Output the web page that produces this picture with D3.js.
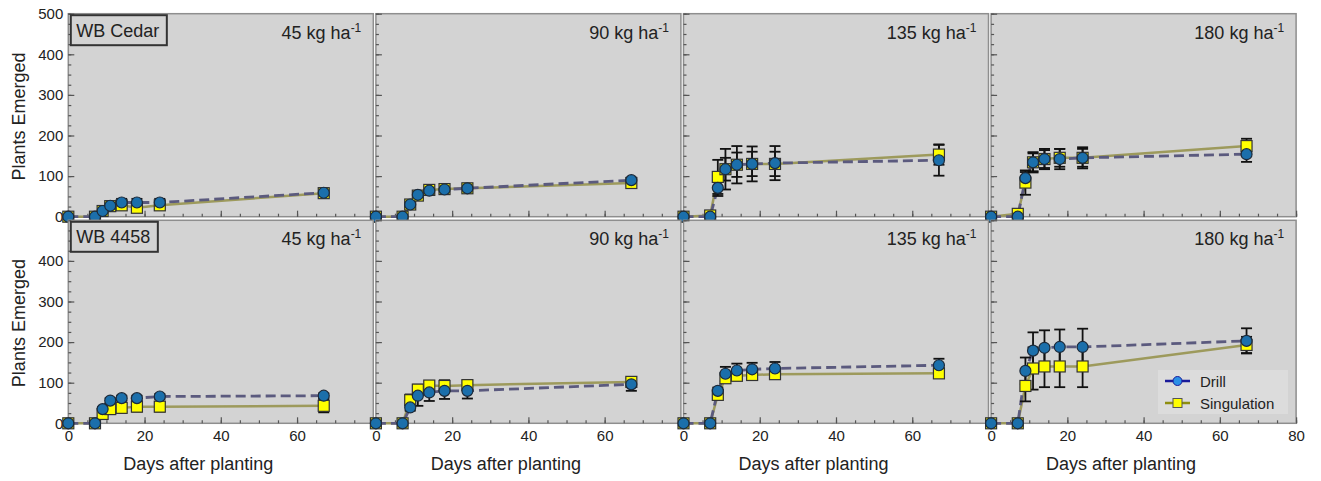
<!DOCTYPE html>
<html>
<head>
<meta charset="utf-8">
<script src="https://cdn.jsdelivr.net/npm/d3@7"></script>
<style>
  html, body { margin: 0; padding: 0; background: #ffffff; }
  svg { display: block; font-family: "Liberation Sans", Arial, sans-serif; }
</style>
</head>
<body>
<svg id="chart" width="1321" height="481"></svg>
<script>
// Sampling days after planting
const days = [0, 7, 9, 11, 14, 18, 24, 67];

// Cultivars (rows) and seeding rates (columns)
const cultivars = ["WB Cedar", "WB 4458"];
const rates = ["45", "90", "135", "180"];

// WB Cedar — mean plants emerged and standard error
const cedarDrill45 = [0, 0, 14, 27, 35, 35, 35, 59];
const cedarDrill45Err = [0, 0, 5, 8, 9, 9, 9, 9];
const cedarSing45 = [0, 0, 14, 26, 28, 22, 28, 58];
const cedarSing45Err = [0, 0, 5, 7, 8, 8, 7, 8];

const cedarDrill90 = [0, 0, 30, 54, 64, 67, 70, 90];
const cedarDrill90Err = [0, 0, 5, 7, 9, 10, 10, 6];
const cedarSing90 = [0, 0, 30, 52, 66, 68, 70, 83];
const cedarSing90Err = [0, 0, 5, 6, 9, 9, 10, 6];

const cedarDrill135 = [0, 0, 71, 117, 128, 130, 132, 139];
const cedarDrill135Err = [0, 0, 20, 50, 46, 43, 42, 38];
const cedarSing135 = [0, 3, 98, 117, 128, 130, 130, 153];
const cedarSing135Err = [0, 2, 42, 28, 30, 30, 30, 25];

const cedarDrill180 = [0, 0, 95, 134, 142, 142, 145, 154];
const cedarDrill180Err = [0, 0, 15, 25, 25, 25, 26, 19];
const cedarSing180 = [0, 7, 84, 134, 142, 145, 145, 174];
const cedarSing180Err = [0, 2, 30, 22, 22, 22, 22, 18];

// WB 4458 — mean plants emerged and standard error
const wbDrill45 = [0, 0, 35, 56, 62, 62, 66, 68];
const wbDrill45Err = [0, 0, 5, 6, 6, 6, 6, 6];
const wbSing45 = [0, 0, 23, 35, 38, 41, 41, 43];
const wbSing45Err = [0, 0, 5, 10, 10, 12, 12, 16];

const wbDrill90 = [0, 0, 39, 68, 76, 80, 80, 96];
const wbDrill90Err = [0, 0, 8, 25, 21, 20, 19, 16];
const wbSing90 = [0, 0, 57, 83, 93, 92, 94, 102];
const wbSing90Err = [0, 0, 14, 12, 10, 14, 12, 8];

const wbDrill135 = [0, 0, 80, 122, 130, 133, 135, 143];
const wbDrill135Err = [0, 0, 8, 17, 17, 16, 16, 16];
const wbSing135 = [0, 0, 70, 111, 117, 119, 121, 123];
const wbSing135Err = [0, 0, 8, 8, 8, 8, 8, 6];

const wbDrill180 = [0, 0, 129, 179, 186, 188, 188, 203];
const wbDrill180Err = [0, 0, 33, 45, 43, 43, 45, 31];
const wbSing180 = [0, 0, 92, 135, 140, 140, 140, 193];
const wbSing180Err = [0, 0, 38, 52, 51, 51, 51, 20];

// Axis ticks
const yTicks = [0, 100, 200, 300, 400, 500];
const xTicks = [0, 20, 40, 60, 80];

// Assemble the panel grid from the arrays above
const panelData = [
  [
    [cedarDrill45, cedarDrill45Err, cedarSing45, cedarSing45Err],
    [cedarDrill90, cedarDrill90Err, cedarSing90, cedarSing90Err],
    [cedarDrill135, cedarDrill135Err, cedarSing135, cedarSing135Err],
    [cedarDrill180, cedarDrill180Err, cedarSing180, cedarSing180Err]
  ],
  [
    [wbDrill45, wbDrill45Err, wbSing45, wbSing45Err],
    [wbDrill90, wbDrill90Err, wbSing90, wbSing90Err],
    [wbDrill135, wbDrill135Err, wbSing135, wbSing135Err],
    [wbDrill180, wbDrill180Err, wbSing180, wbSing180Err]
  ]
];

// Layout
const colX0 = 68.3, colStep = 307.6, panelW = 305;
const rowY0 = [13.7, 220.3], panelH = 203;

const svg = d3.select("#chart");

const drillLine = "#5b5a7e";
const singLine = "#9d9a5c";
const drillFill = "#1b6fab";
const singFill = "#ffff00";

function drawPanel(r, c) {
  const x0 = colX0 + c * colStep;
  const y0 = rowY0[r];
  const x = d3.scaleLinear().domain([0, 80]).range([x0, x0 + panelW]);
  const y = d3.scaleLinear().domain([0, 500]).range([y0 + panelH, y0]);
  const [dV, dE, sV, sE] = panelData[r][c];
  const g = svg.append("g");

  // Background and frame
  g.append("rect")
    .attr("x", x0).attr("y", y0)
    .attr("width", panelW).attr("height", panelH)
    .attr("fill", "#d3d3d3")
    .attr("stroke", "#8e8e8e").attr("stroke-width", 1.5);

  // Y axis: major ticks every 100, minor every 25, drawn inward
  const yMajor = g.append("g").attr("transform", `translate(${x0},0)`)
    .call(d3.axisLeft(y).tickValues(c === 0 ? (r === 0 ? yTicks : yTicks.slice(0, 5)) : yTicks)
      .tickSize(-6).tickPadding(5)
      .tickFormat(c === 0 ? d3.format("d") : () => ""));
  const yMinor = g.append("g").attr("transform", `translate(${x0},0)`)
    .call(d3.axisLeft(y).tickValues(d3.range(0, 501, 25)).tickSize(-3).tickFormat(() => ""));

  // X axis: major ticks every 20, minor every 5
  const showX = r === 1;
  const xVals = c === 3 ? xTicks : xTicks.slice(0, 4);
  const xMajor = g.append("g").attr("transform", `translate(0,${y0 + panelH})`)
    .call(d3.axisBottom(x).tickValues(showX ? xVals : xTicks).tickSize(-6).tickPadding(7)
      .tickFormat(showX ? d3.format("d") : () => ""));
  const xMinor = g.append("g").attr("transform", `translate(0,${y0 + panelH})`)
    .call(d3.axisBottom(x).tickValues(d3.range(0, 81, 5)).tickSize(-3).tickFormat(() => ""));

  [yMajor, yMinor, xMajor, xMinor].forEach(ax => {
    ax.select(".domain").remove();
    ax.selectAll(".tick line").attr("stroke", "#555").attr("stroke-width", 1.2);
    ax.selectAll(".tick text").attr("fill", "#222").style("font-size", "15px")
      .style("font-family", "'Liberation Sans', Arial, sans-serif");
  });

  // Title with superscript
  const t = g.append("text")
    .attr("x", x0 + panelW - 12).attr("y", y0 + 25)
    .attr("text-anchor", "end")
    .attr("fill", "#222")
    .style("font-size", "18px");
  t.append("tspan").text(rates[c] + " kg ha");
  t.append("tspan").attr("dy", -7).style("font-size", "12px").text("-1");

  // Cultivar label box
  if (c === 0) {
    const lg = g.append("g");
    const box = lg.append("rect")
      .attr("x", x0 + 2.5).attr("y", y0 + 1.5)
      .attr("height", 30)
      .attr("fill", "#d3d3d3")
      .attr("stroke", "#333").attr("stroke-width", 2);
    const lbl = lg.append("text")
      .attr("x", x0 + 8).attr("y", y0 + 23)
      .attr("fill", "#222")
      .style("font-size", "18px")
      .text(cultivars[r]);
    box.attr("width", lbl.node().getComputedTextLength() + 13);
  }

  const pts = days.map((d, i) => ({ d, dv: dV[i], de: dE[i], sv: sV[i], se: sE[i] }));

  // Series lines
  g.append("path").datum(pts)
    .attr("d", d3.line().x(p => x(p.d)).y(p => y(p.sv)))
    .attr("fill", "none").attr("stroke", singLine).attr("stroke-width", 2.5);
  g.append("path").datum(pts)
    .attr("d", d3.line().x(p => x(p.d)).y(p => y(p.dv)))
    .attr("fill", "none").attr("stroke", drillLine).attr("stroke-width", 2.8)
    .attr("stroke-dasharray", "10,5");

  // Error bars
  function errBars(val, err) {
    const eb = g.append("g").attr("stroke", "#111").attr("stroke-width", 1.8);
    pts.filter(p => p[err] > 0).forEach(p => {
      const cx = x(p.d), top = y(p[val] + p[err]), bot = y(p[val] - p[err]);
      eb.append("line").attr("x1", cx).attr("x2", cx).attr("y1", top).attr("y2", bot);
      eb.append("line").attr("x1", cx - 5.5).attr("x2", cx + 5.5).attr("y1", top).attr("y2", top);
      eb.append("line").attr("x1", cx - 5.5).attr("x2", cx + 5.5).attr("y1", bot).attr("y2", bot);
    });
  }
  errBars("sv", "se");
  errBars("dv", "de");

  // Markers
  g.append("g").selectAll("rect").data(pts).join("rect")
    .attr("x", p => x(p.d) - 5.5).attr("y", p => y(p.sv) - 5.5)
    .attr("width", 11).attr("height", 11)
    .attr("fill", singFill).attr("stroke", "#333").attr("stroke-width", 1.2);
  g.append("g").selectAll("circle").data(pts).join("circle")
    .attr("cx", p => x(p.d)).attr("cy", p => y(p.dv)).attr("r", 5.5)
    .attr("fill", drillFill).attr("stroke", "#1c2a3a").attr("stroke-width", 1.2);
}

for (let r = 0; r < 2; r++) {
  for (let c = 0; c < 4; c++) drawPanel(r, c);
}

// Axis titles
rowY0.forEach(y0 => {
  svg.append("text")
    .attr("transform", `translate(25,${y0 + 102.8}) rotate(-90)`)
    .attr("text-anchor", "middle").attr("fill", "#222")
    .style("font-size", "18px").text("Plants Emerged");
});
for (let c = 0; c < 4; c++) {
  svg.append("text")
    .attr("x", colX0 + c * colStep + 130).attr("y", 470)
    .attr("text-anchor", "middle").attr("fill", "#222")
    .style("font-size", "18px").text("Days after planting");
}

// Legend
const lg = svg.append("g").attr("transform", "translate(1158,370)");
lg.append("rect").attr("width", 130).attr("height", 44).attr("fill", "#dcdcdc");
const legendItems = [
  { name: "Drill", line: "#1a1a9a", shape: "circle", fill: "#2a8fe6" },
  { name: "Singulation", line: "#8e8e10", shape: "square", fill: "#ffff00" }
];
legendItems.forEach((it, i) => {
  const ly = 11 + i * 22;
  lg.append("line").attr("x1", 7).attr("x2", 32).attr("y1", ly).attr("y2", ly)
    .attr("stroke", it.line).attr("stroke-width", 2.5);
  if (it.shape === "circle") {
    lg.append("circle").attr("cx", 19.5).attr("cy", ly).attr("r", 4.5)
      .attr("fill", it.fill).attr("stroke", "#1a1a9a").attr("stroke-width", 1);
  } else {
    lg.append("rect").attr("x", 15).attr("y", ly - 4.5).attr("width", 9).attr("height", 9)
      .attr("fill", it.fill).attr("stroke", "#555").attr("stroke-width", 1);
  }
  lg.append("text").attr("x", 42).attr("y", ly + 5.5).attr("fill", "#222")
    .style("font-size", "15px").text(it.name);
});
</script>
</body>
</html>
